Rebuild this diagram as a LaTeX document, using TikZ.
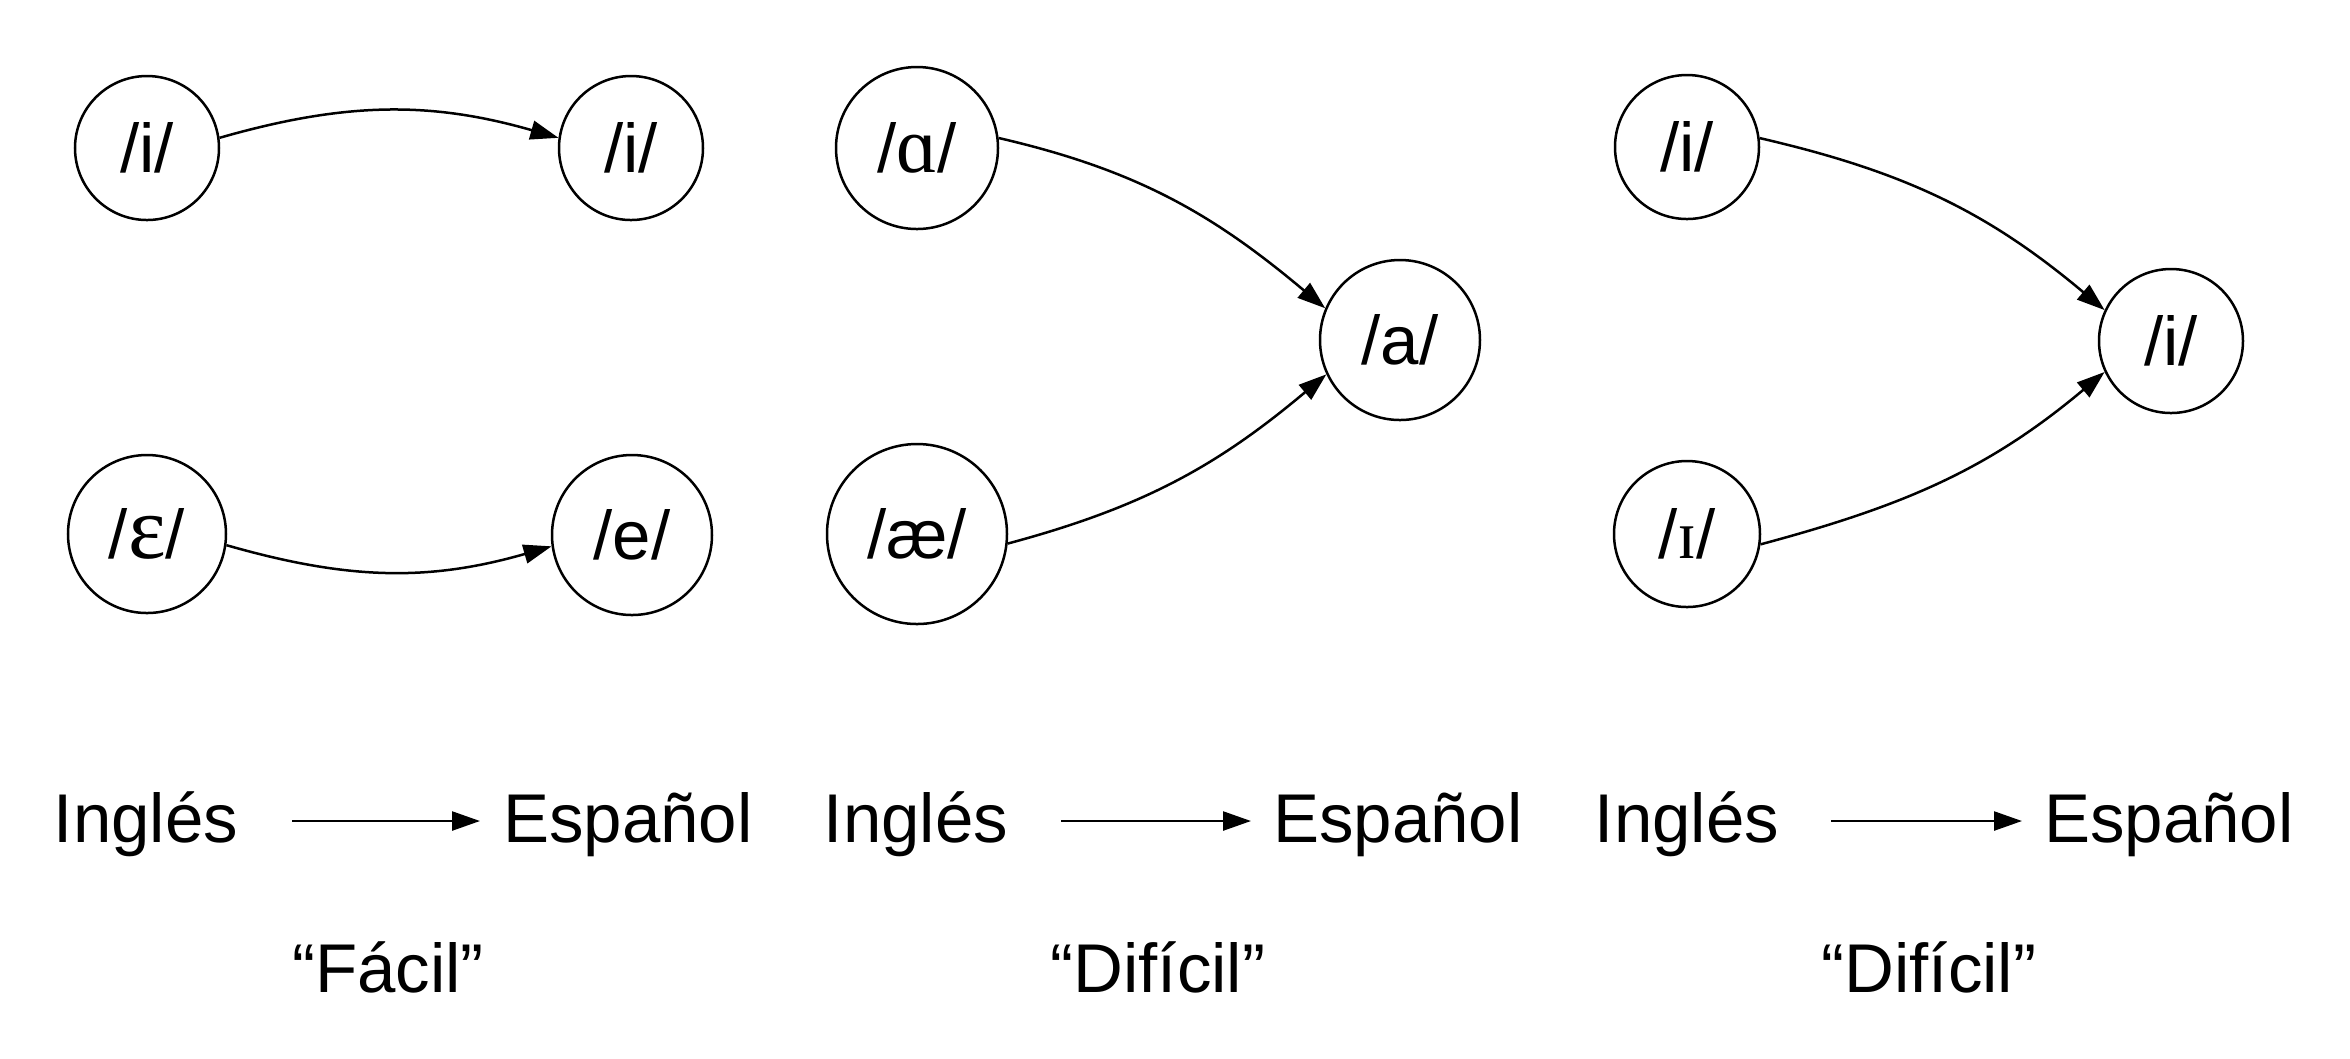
\documentclass[tikz,border=0pt]{standalone}
\usepackage{fontspec}
\setmainfont{Liberation Sans}
\newfontfamily\ipaserif{Liberation Serif}
\newfontfamily\ipaserifA[Scale=1.15]{Liberation Serif}
\newfontfamily\ipaserifE[Scale=1.3]{Liberation Serif}
\usetikzlibrary{arrows.meta}
\begin{document}
\begin{tikzpicture}[x=0.2pt,y=-0.2pt,
  every node/.style={font=\fontsize{13.8}{16}\selectfont},
  vowel/.style={draw,circle,line width=0.5pt,inner sep=0pt},
  lbl/.style={anchor=base,inner sep=0pt},
  edge/.style={line width=0.5pt,-{Triangle[length=5.6pt,width=3.8pt]}}]
\useasboundingbox (0,0) rectangle (2350,1058);
% panel 1
\node[vowel,minimum size=28.8pt] (a1) at (147,148) {/i/};
\node[vowel,minimum size=28.8pt] (b1) at (631,148) {/i/};
\node[vowel,minimum size=31.6pt] (a2) at (147,534) {/{\ipaserifE ɛ}/};
\node[vowel,minimum size=32pt] (b2) at (632,535) {/e/};
\draw[edge] (a1.8) to[out=16,in=164] (b1.172);
\draw[edge] (a2.-8) to[out=-16,in=-164] (b2.-172);
% panel 2
\node[vowel,minimum size=32.4pt] (c1) at (917,148) {/{\ipaserifA ɑ}/};
\node[vowel,minimum size=36pt] (c2) at (917,534) {/æ/};
\node[vowel,minimum size=32pt] (d) at (1400,340) {/a/};
\draw[edge] (c1.7) to[out=-13,in=140] (d.157);
\draw[edge] (c2.-6) to[out=15,in=-140] (d.-155);
% panel 3
\node[vowel,minimum size=28.8pt] (e1) at (1687,147) {/i/};
\node[vowel,minimum size=29.2pt] (e2) at (1687,534) {/{\ipaserif ɪ}/};
\node[vowel,minimum size=28.8pt] (f) at (2171,341) {/i/};
\draw[edge] (e1.7) to[out=-13,in=140] (f.155);
\draw[edge] (e2.-8) to[out=15,in=-140] (f.-155);
% bottom rows
\node[lbl] (ing1) at (146,842) {Inglés};
\node[lbl] (esp1) at (628,842) {Español};
\node[lbl] (ing2) at (916,842) {Inglés};
\node[lbl] (esp2) at (1398,842) {Español};
\node[lbl] (ing3) at (1687,842) {Inglés};
\node[lbl] (esp3) at (2169,842) {Español};
\coordinate (s1) at (292,821); \coordinate (t1) at (480,821);
\coordinate (s2) at (1061,821); \coordinate (t2) at (1251,821);
\coordinate (s3) at (1831,821); \coordinate (t3) at (2022,821);
\draw[edge] (s1) -- (t1);
\draw[edge] (s2) -- (t2);
\draw[edge] (s3) -- (t3);
\node[lbl] (q1) at (388,992) {“Fácil”};
\node[lbl] (q2) at (1158,992) {“Difícil”};
\node[lbl] (q3) at (1929,992) {“Difícil”};
\end{tikzpicture}
\end{document}
